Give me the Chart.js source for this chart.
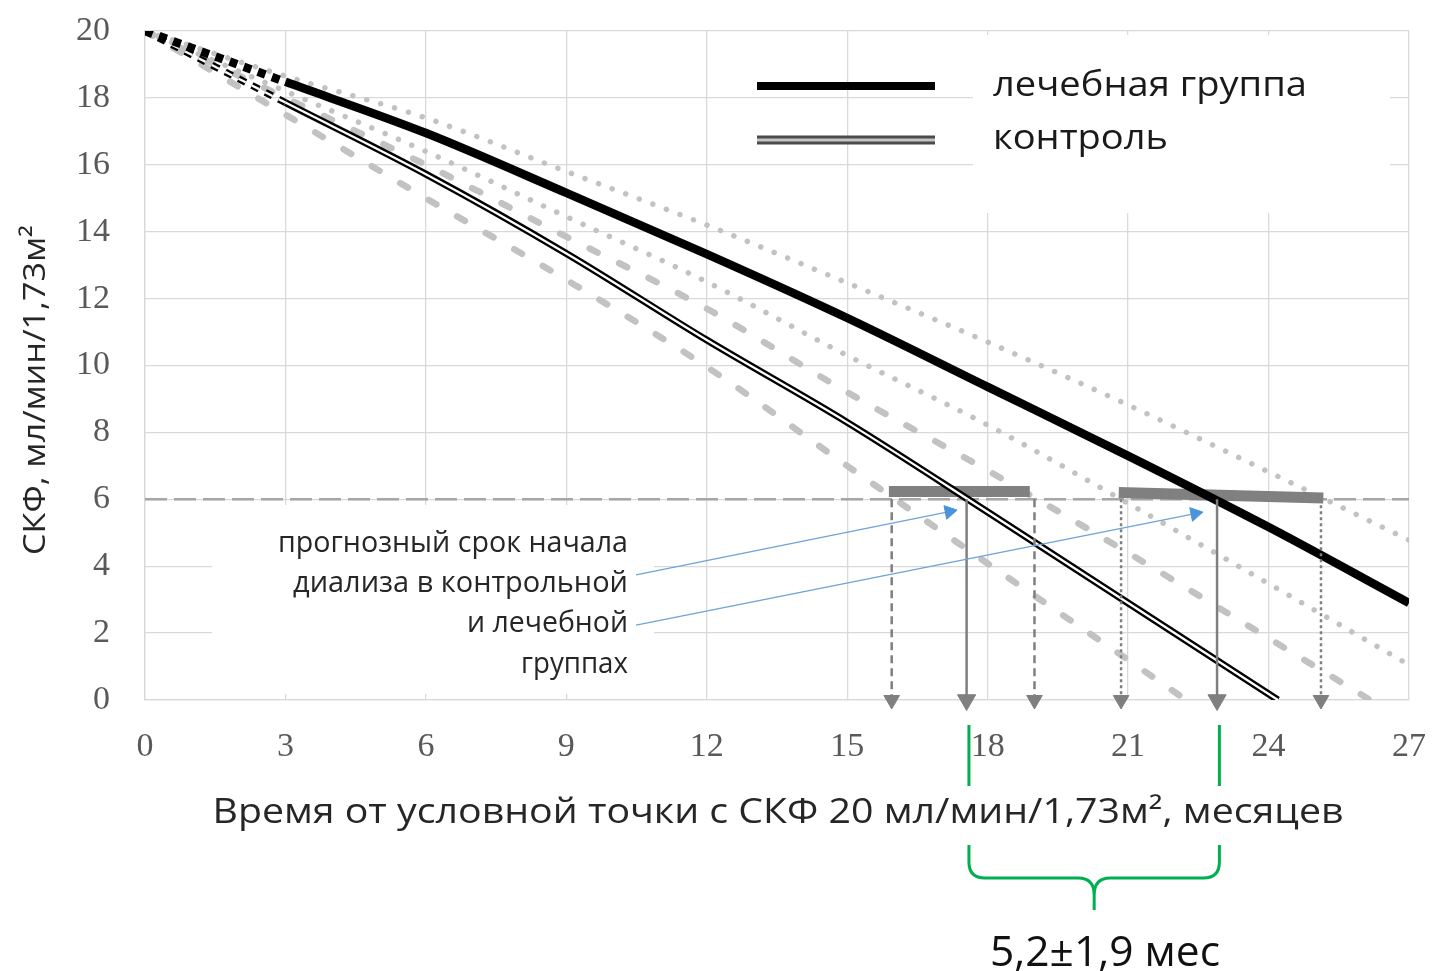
<!DOCTYPE html>
<html lang="ru">
<head>
<meta charset="utf-8">
<title>СКФ</title>
<script src="https://cdn.jsdelivr.net/npm/chart.js@4.4.1/dist/chart.umd.min.js"></script>
<style>
  html, body { margin: 0; padding: 0; background: #fff; }
  canvas { display: block; }
</style>
</head>
<body>
<canvas id="gfrChart" width="1433" height="971"></canvas>
<script>
// months from the point with GFR 20
const months = [0, 3, 6, 9, 12, 15, 18, 21, 24, 27];
const treatment = [20, 18.48, 16.95, 15.16, 13.33, 11.42, 9.36, 7.3, 5.17, 2.9];
const treatmentHigh = [20, 18.65, 17.4, 15.8, 14.2, 12.47, 10.7, 8.82, 6.82, 4.78];
const treatmentLow = [20, 18.2, 16.4, 14.45, 12.5, 10.3, 8.22, 5.88, 3.48, 1.05];

const controlMonths = [0, 3, 6, 9, 12, 15, 18, 21, 24.2];
const control = [20, 17.86, 15.72, 13.35, 10.76, 8.3, 5.62, 2.9, 0];
const controlHighMonths = [0, 3, 6, 9, 12, 15, 18, 21, 24, 26.17];
const controlHigh = [20, 18.0, 16.0, 13.85, 11.7, 9.2, 6.86, 4.4, 1.85, 0];
const controlLowMonths = [0, 3, 6, 9, 12, 15, 18, 21, 22.24];
const controlLow = [20, 17.5, 15.0, 12.56, 9.96, 7.0, 4.08, 1.2, 0];

// dialysis threshold and predicted start ranges
const dialysisLevel = 6;
const barStart = [15.89, 20.8];
const barEnd = [18.9, 25.17];
const barLevelStart = [6.23, 6.2];
const barLevelEnd = [6.23, 6.04];

const arrowMonths = [15.95, 17.55, 19.0, 20.85, 22.9, 25.12];
const arrowKinds = ['dash', 'solid', 'dash', 'dot', 'solid', 'dot'];

// callout lines from the note to the start points
const calloutFrom = [[10.49, 3.74], [10.49, 2.24]];
const calloutTo = [[17.18, 5.63], [22.43, 5.57]];

const intervalMonths = [17.6, 22.95];
const intervalLabel = '5,2±1,9 мес';

const xTicks = [0, 3, 6, 9, 12, 15, 18, 21, 24, 27];
const yTicks = [0, 2, 4, 6, 8, 10, 12, 14, 16, 18, 20];

const legendLabels = ['лечебная группа', 'контроль'];
const noteLines = ['прогнозный срок начала', 'диализа в контрольной', 'и лечебной', 'группах'];
const xTitle = 'Время от условной точки с СКФ 20 мл/мин/1,73м², месяцев';
const yTitle = 'СКФ, мл/мин/1,73м²';

const pts = (xs, ys) => xs.map((x, i) => ({ x: x, y: ys[i] }));
const firstDashed = dash => ({ borderDash: c => c.p0DataIndex === 0 ? dash : undefined });

const boundGray = '#c2c2c2';
const dotted = { borderColor: boundGray, borderWidth: 5.5, borderDash: [0.01, 14.5], borderCapStyle: 'round', cubicInterpolationMode: 'monotone' };
const dashed = { borderColor: boundGray, borderWidth: 6.5, borderDash: [9, 24], borderCapStyle: 'round', cubicInterpolationMode: 'monotone' };

const arrowStyles = {
    dash: { dash: [8, 5], r: 9 },
    dot: { dash: [3, 3], r: 9 },
    solid: { dash: [], r: 10.5 }
};

const datasets = [
    Object.assign({ data: pts(months, treatmentHigh), order: 8 }, dotted),
    Object.assign({ data: pts(months, treatmentLow), order: 8 }, dotted),
    Object.assign({ data: pts(controlHighMonths, controlHigh), order: 8 }, dashed),
    Object.assign({ data: pts(controlLowMonths, controlLow), order: 8 }, dashed),
    {
        data: [{ x: xTicks[0], y: dialysisLevel }, { x: xTicks[xTicks.length - 1], y: dialysisLevel }],
        borderColor: '#a6a6a6', borderWidth: 2.5, borderDash: [22, 7], order: 7
    }
];

barStart.forEach((b, i) => {
    datasets.push({
        data: [{ x: b, y: barLevelStart[i] }, { x: barEnd[i], y: barLevelEnd[i] }],
        borderColor: '#808080', borderWidth: 11, borderCapStyle: 'butt', order: 6
    });
});

datasets.push(
    { data: pts(controlMonths, control), borderColor: '#000', borderWidth: 7, segment: firstDashed([8, 7]), cubicInterpolationMode: 'monotone', order: 5 },
    { data: pts(controlMonths, control), borderColor: '#fff', borderWidth: 2.3, segment: firstDashed([8, 7]), cubicInterpolationMode: 'monotone', order: 4 },
    { data: pts(months, treatment), borderColor: '#000', borderWidth: 8.5, segment: firstDashed([8, 7]), cubicInterpolationMode: 'monotone', order: 3 }
);

arrowMonths.forEach((m, i) => {
    const st = arrowStyles[arrowKinds[i]];
    datasets.push({
        data: [{ x: m, y: dialysisLevel }, { x: m, y: 0 }],
        borderColor: '#7f7f7f', borderWidth: 2.5, borderDash: st.dash,
        pointRadius: [0, st.r], pointStyle: 'triangle', pointRotation: 180,
        pointBackgroundColor: '#7f7f7f', pointBorderColor: '#7f7f7f', pointBorderWidth: 1,
        clip: false, order: 2
    });
});

function headAngle(c) {
    const d = c.dataset.data;
    const sx = c.chart.scales.x, sy = c.chart.scales.y;
    const dx = sx.getPixelForValue(d[1].x) - sx.getPixelForValue(d[0].x);
    const dy = sy.getPixelForValue(d[1].y) - sy.getPixelForValue(d[0].y);
    return Math.atan2(dx, -dy) * 180 / Math.PI;
}

calloutFrom.forEach((f, i) => {
    datasets.push({
        data: [{ x: f[0], y: f[1] }, { x: calloutTo[i][0], y: calloutTo[i][1] }],
        borderColor: '#6fa3d8', borderWidth: 1.4,
        pointRadius: [0, 8], pointStyle: 'triangle', pointRotation: headAngle,
        pointBackgroundColor: '#4a94dc', pointBorderColor: '#4a94dc', pointBorderWidth: 1,
        clip: false, order: 1
    });
});

function fitText(c, text, x, y, size, family, width, align, color) {
    c.save();
    c.font = size + 'px "' + family + '"';
    const w = c.measureText(text).width;
    c.translate(x, y);
    c.scale(width / w, 1);
    c.textAlign = align;
    c.textBaseline = 'alphabetic';
    c.fillStyle = color;
    c.fillText(text, 0, 0);
    c.restore();
}

// keep the plot area where the picture has it, whatever the labels overhang
function noPad(s) {
    s.paddingTop = 0; s.paddingBottom = 0; s.paddingLeft = 0; s.paddingRight = 0;
}

const decor = {
    id: 'decor',
    beforeDatasetsDraw(chart) {
        const c = chart.ctx;
        c.save();
        c.fillStyle = '#fff';
        c.fillRect(973, 35, 417, 178);   // behind legend text
        c.fillRect(212, 505, 442, 189);  // behind note
        c.restore();
    },
    afterDraw(chart) {
        const c = chart.ctx;
        const sx = chart.scales.x;

        // legend samples
        c.save();
        c.lineCap = 'butt';
        c.strokeStyle = '#000'; c.lineWidth = 8;
        c.beginPath(); c.moveTo(757, 86); c.lineTo(935, 86); c.stroke();
        c.strokeStyle = '#4a4a4a'; c.lineWidth = 9;
        c.beginPath(); c.moveTo(757, 140); c.lineTo(935, 140); c.stroke();
        c.strokeStyle = '#c4c4c4'; c.lineWidth = 3;
        c.beginPath(); c.moveTo(757, 140); c.lineTo(935, 140); c.stroke();
        c.restore();

        fitText(c, legendLabels[0], 993, 96, 34, 'Open Sans', 314, 'left', '#1a1a1a');
        fitText(c, legendLabels[1], 993, 149, 34, 'Open Sans', 175, 'left', '#1a1a1a');

        // note
        const noteBase = [552, 592, 632, 673];
        const noteW = [350, 335, 161, 107];
        noteLines.forEach((t, i) => fitText(c, t, 628, noteBase[i], 29, 'Open Sans', noteW[i], 'right', '#262626'));

        // axis titles
        fitText(c, xTitle, 778, 823, 34, 'Open Sans', 1131, 'center', '#262626');
        c.save();
        c.translate(45, 390);
        c.rotate(-Math.PI / 2);
        fitText(c, yTitle, 0, 0, 31, 'Open Sans', 330, 'center', '#262626');
        c.restore();

        // interval brace
        const xl = sx.getPixelForValue(intervalMonths[0]);
        const xr = sx.getPixelForValue(intervalMonths[1]);
        const xm = (xl + xr) / 2;
        c.save();
        c.strokeStyle = '#00b050';
        c.lineWidth = 3;
        c.beginPath();
        c.moveTo(xl, 725); c.lineTo(xl, 786);
        c.moveTo(xr, 725); c.lineTo(xr, 786);
        c.moveTo(xl, 845); c.lineTo(xl, 862);
        c.quadraticCurveTo(xl, 878, xl + 16, 878);
        c.lineTo(xm - 16, 878);
        c.quadraticCurveTo(xm, 878, xm, 895);
        c.lineTo(xm, 910);
        c.moveTo(xm, 895);
        c.quadraticCurveTo(xm, 878, xm + 16, 878);
        c.lineTo(xr - 16, 878);
        c.quadraticCurveTo(xr, 878, xr, 862);
        c.lineTo(xr, 845);
        c.stroke();
        c.restore();

        fitText(c, intervalLabel, 1105, 966, 42, 'Open Sans', 230, 'center', '#111');
    }
};

const gfrChart = new Chart(document.getElementById('gfrChart').getContext('2d'), {
    type: 'line',
    data: { datasets: datasets },
    options: {
        responsive: false,
        animation: false,
        devicePixelRatio: 1,
        events: [],
        layout: { padding: { top: 31, right: 24, left: 0, bottom: 0 } },
        elements: { point: { radius: 0 }, line: { tension: 0, fill: false } },
        plugins: { legend: { display: false }, tooltip: { enabled: false } },
        scales: {
            x: {
                type: 'linear',
                min: xTicks[0],
                max: xTicks[xTicks.length - 1],
                afterBuildTicks: s => { s.ticks = xTicks.map(v => ({ value: v })); },
                afterFit: s => { s.height = 271; noPad(s); },
                grid: { color: '#d9d9d9', lineWidth: 1.3, drawTicks: false },
                border: { color: '#d9d9d9', width: 1.3 },
                ticks: {
                    padding: 27,
                    color: '#595959',
                    font: { family: 'Liberation Serif', size: 34 },
                    maxRotation: 0,
                    autoSkip: false
                }
            },
            y: {
                type: 'linear',
                min: yTicks[0],
                max: yTicks[yTicks.length - 1],
                afterBuildTicks: s => { s.ticks = yTicks.map(v => ({ value: v })); },
                afterFit: s => { s.width = 145; noPad(s); },
                grid: { color: '#d9d9d9', lineWidth: 1.3, drawTicks: false },
                border: { color: '#d9d9d9', width: 1.3 },
                ticks: {
                    padding: 35,
                    color: '#595959',
                    font: { family: 'Liberation Serif', size: 34 },
                    autoSkip: false
                }
            }
        }
    },
    plugins: [decor]
});
</script>
</body>
</html>
